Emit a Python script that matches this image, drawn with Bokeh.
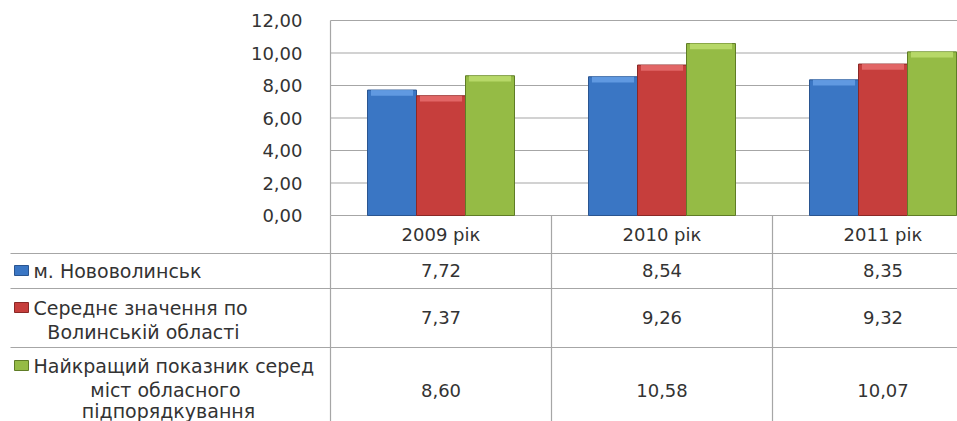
from bokeh.plotting import figure
from bokeh.models import Range1d, FixedTicker, ColumnDataSource, LinearAxis, CustomJSTickFormatter
from bokeh.core.properties import value
from bokeh.embed import file_html
from bokeh.resources import INLINE

# ---- data ----
categories = ["2009 рік", "2010 рік", "2011 рік"]
novovolynsk = [7.72, 8.54, 8.35]
oblast_avg = [7.37, 9.26, 9.32]
best_city = [8.60, 10.58, 10.07]
series_values = [novovolynsk, oblast_avg, best_city]
series_labels = [
    ["м. Нововолинськ"],
    ["Середнє значення по", "Волинській області"],
    ["Найкращий показник серед", "міст обласного", "підпорядкування"],
]
y_ticks = [0, 2, 4, 6, 8, 10, 12]

# ---- style ----
FONT = "DejaVu Sans"
TXT = "#333333"
GRID = "#a6a6a6"
fills = ["#3a76c4", "#c63e3c", "#95bb45"]
caps = ["#6aa3e8", "#e87070", "#bfe070"]
edges = ["#2a5590", "#8a2826", "#5f7c26"]

W, H = 957, 421
COL_PX = 221.0          # width of one category column in pixels
X0_PX = 330.0           # left edge of plot area / first category column
Y0_PX, Y12_PX = 215.0, 20.0   # pixel rows of value 0 and value 12


def u(sx):
    return (sx - X0_PX) / COL_PX


px_per_unit = (Y0_PX - Y12_PX) / 12.0
bar_range = Range1d(-(H - Y0_PX) / px_per_unit, 12 + Y12_PX / px_per_unit)

X_END = u(W)
BAR_W = 49 / COL_PX
offsets = [-BAR_W, 0.0, BAR_W]

p = figure(width=W, height=H, x_range=Range1d(u(0), X_END), y_range=Range1d(H, 0),
           output_backend="svg", toolbar_location=None,
           x_axis_location=None, y_axis_location=None, min_border=0)
p.outline_line_color = None
p.grid.grid_line_color = None
p.extra_y_ranges = {"bars": bar_range}

# y axis of the bar chart, standing at the left edge of the plot area
yax = LinearAxis(y_range_name="bars", fixed_location=0, bounds=(0, 12))
yax.ticker = FixedTicker(ticks=y_ticks)
yax.formatter = CustomJSTickFormatter(code="return tick.toFixed(2).replace('.', ',')")
yax.major_label_text_font = FONT
yax.major_label_text_font_size = "18px"
yax.major_label_text_color = TXT
yax.major_label_standoff = 22
yax.major_tick_line_color = None
yax.minor_tick_line_color = None
yax.axis_line_color = GRID
yax.axis_line_width = 1.2
p.add_layout(yax, "left")

# horizontal gridlines of the bar chart
p.segment(x0=[0] * len(y_ticks), x1=[X_END] * len(y_ticks), y0=y_ticks, y1=y_ticks,
          y_range_name="bars", line_color=GRID, line_width=1.2)

# bars
for s, vals in enumerate(series_values):
    xs = [i + 0.5 + offsets[s] for i in range(len(categories))]
    src = ColumnDataSource(dict(x=xs, top=vals, cap=[v - 0.35 for v in vals]))
    p.vbar(x="x", top="top", bottom=0, width=BAR_W, source=src, y_range_name="bars",
           fill_color=fills[s], line_color=edges[s], line_width=1)
    p.vbar(x="x", top="top", bottom="cap", width=BAR_W * 0.86, source=src, y_range_name="bars",
           fill_color=caps[s], line_color=None, fill_alpha=0.8)

# ---- data table (pixel rows) ----
row_bounds = [253, 288, 347]
row_val_y = [270, 317, 390]
row_line_y = [[270], [307, 331], [365, 389, 410]]
row_line_cx = [[0], [143, 143], [0, 165, 168]]
HDR_Y = 234

n = len(categories)
p.segment(x0=[u(10)] * 3, y0=row_bounds, x1=[X_END] * 3, y1=row_bounds, line_color=GRID, line_width=1.2)
p.segment(x0=list(range(n)), y0=[Y0_PX] * n, x1=list(range(n)), y1=[H] * n,
          line_color=GRID, line_width=1.2)

p.text(x=[i + 0.5 for i in range(n)], y=[HDR_Y] * n, text=categories,
       text_font=value(FONT), text_font_size="18px", text_color=TXT,
       text_align="center", text_baseline="middle")

for s, vals in enumerate(series_values):
    p.text(x=[i + 0.5 for i in range(n)], y=[row_val_y[s]] * n,
           text=[f"{v:.2f}".replace(".", ",") for v in vals],
           text_font=value(FONT), text_font_size="18px", text_color=TXT,
           text_align="center", text_baseline="middle")
    p.rect(x=[u(21)], y=[row_line_y[s][0]], width=14, height=10,
           width_units="screen", height_units="screen",
           fill_color=fills[s], line_color=edges[s])
    for k, line in enumerate(series_labels[s]):
        if k == 0:
            p.text(x=[u(33)], y=[row_line_y[s][k]], text=[line], text_font=value(FONT),
                   text_font_size="19px", text_color=TXT, text_align="left", text_baseline="middle")
        else:
            p.text(x=[u(row_line_cx[s][k])], y=[row_line_y[s][k]], text=[line], text_font=value(FONT),
                   text_font_size="19px", text_color=TXT, text_align="center", text_baseline="middle")

open("out.html", "w").write(file_html(p, INLINE))
